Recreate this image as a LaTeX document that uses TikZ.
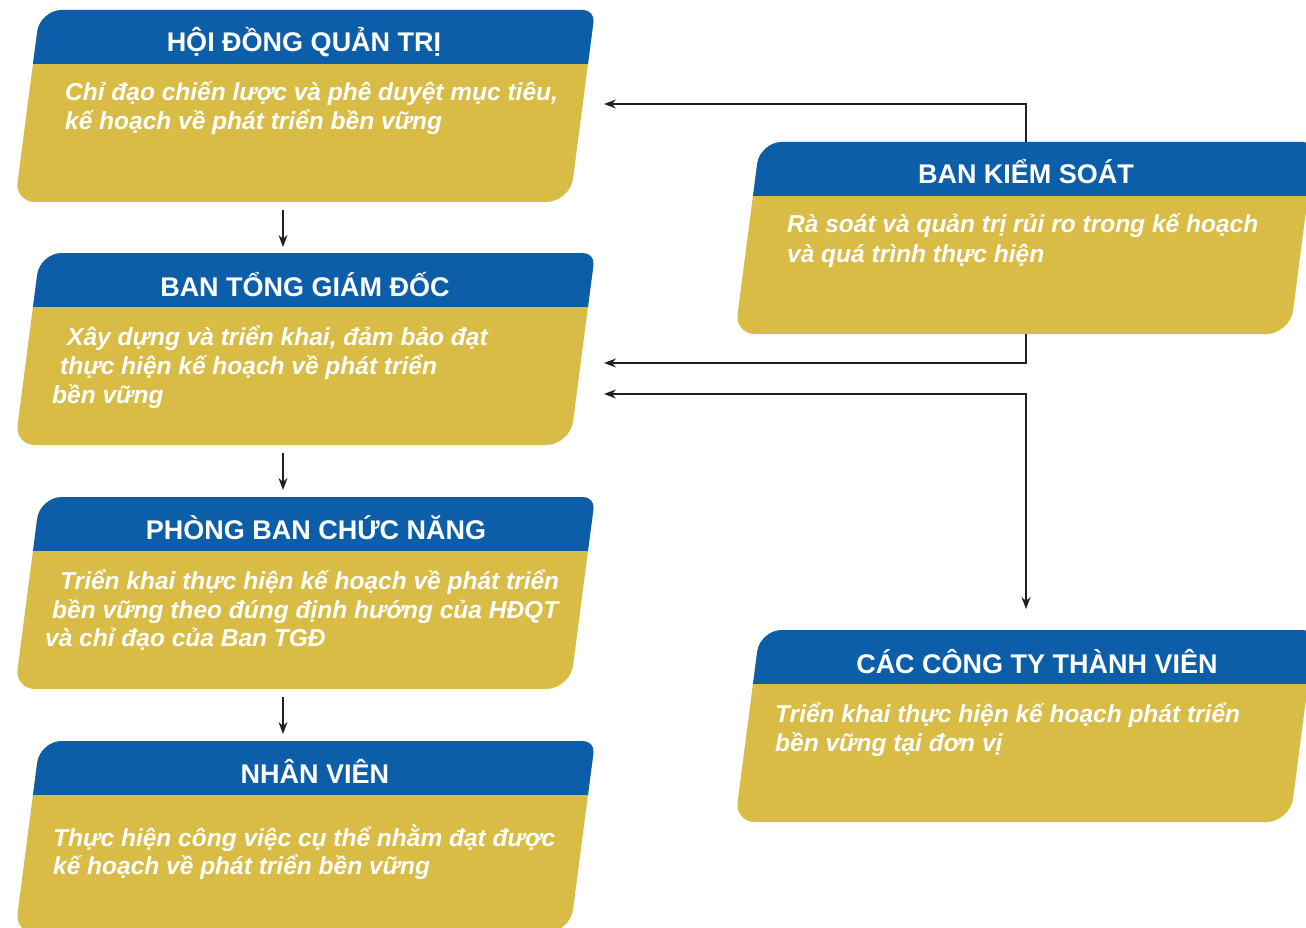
\documentclass[tikz,border=0pt]{standalone}
\usepackage{fontspec}
\setmainfont{Liberation Sans}
\usetikzlibrary{arrows.meta}
\definecolor{hdrblue}{RGB}{12,94,168}
\definecolor{boxgold}{RGB}{216,188,70}
\definecolor{linec}{RGB}{35,31,32}
\tikzset{
  hdr/.style={anchor=base, inner sep=0pt, text=white, font=\bfseries\fontsize{27}{32}\selectfont},
  bodytxt/.style={anchor=base west, inner sep=0pt, text=white, font=\bfseries\itshape\fontsize{24.5}{29}\selectfont},
  conn/.style={draw=linec, line width=1.4pt, -{Stealth[length=12pt,width=9pt]}},
  conn2/.style={draw=linec, line width=1.4pt, {Stealth[length=12pt,width=9pt]}-{Stealth[length=12pt,width=9pt]}},
}
% #1 name, #2 bottom-left x, #3 top y
\newcommand\slantbox[3]{%
  \fill[boxgold] (#2+47,#3) -- (#2+568,#3)
    .. controls (#2+574.62,#3) and (#2+579.31,#3+5.33) .. (#2+578.45,#3+11.90)
    -- (#2+558.1,#3+168.2)
    .. controls (#2+556.39,#3+181.34) and (#2+544.25,#3+192) .. (#2+531,#3+192)
    -- (#2+20,#3+192)
    .. controls (#2+8.96,#3+192) and (#2+1.16,#3+183.12) .. (#2+2.58,#3+172.17)
    -- (#2+22.16,#3+21.82)
    .. controls (#2+23.73,#3+9.77) and (#2+34.86,#3) .. (#2+47,#3)
    -- cycle;
  \begin{scope}
    \clip (#2+47,#3) -- (#2+568,#3)
    .. controls (#2+574.62,#3) and (#2+579.31,#3+5.33) .. (#2+578.45,#3+11.90)
    -- (#2+558.1,#3+168.2)
    .. controls (#2+556.39,#3+181.34) and (#2+544.25,#3+192) .. (#2+531,#3+192)
    -- (#2+20,#3+192)
    .. controls (#2+8.96,#3+192) and (#2+1.16,#3+183.12) .. (#2+2.58,#3+172.17)
    -- (#2+22.16,#3+21.82)
    .. controls (#2+23.73,#3+9.77) and (#2+34.86,#3) .. (#2+47,#3)
    -- cycle;
    \fill[hdrblue] (#2-10,#3-2) rectangle (#2+600,#3+54);
  \end{scope}
  \node[inner sep=0pt, minimum width=580pt, minimum height=192pt, anchor=north west] (#1) at (#2,#3) {};
}
\begin{document}
\begin{tikzpicture}[x=1pt, y=-1pt]
\clip (0,0) rectangle (1306,928);
\fill[white] (0,0) rectangle (1306,928);

\slantbox{hdqt}{15}{10}
\slantbox{tgd}{15}{253}
\slantbox{pbcn}{15}{497}
\slantbox{nv}{15}{741}
\slantbox{bks}{735}{142}
\slantbox{cttv}{735}{630}

\node[hdr] (hdqtT) at (304,52) {HỘI ĐỒNG QUẢN TRỊ};
\node[bodytxt] (hdqtB1) at (65,101) {Chỉ đạo chiến lược và phê duyệt mục tiêu,};
\node[bodytxt] (hdqtB2) at (65,130) {kế hoạch về phát triển bền vững};

\node[hdr] (tgdT) at (305,296) {BAN TỔNG GIÁM ĐỐC};
\node[bodytxt] (tgdB1) at (67,345) {Xây dựng và triển khai, đảm bảo đạt};
\node[bodytxt] (tgdB2) at (60,374) {thực hiện kế hoạch về phát triển};
\node[bodytxt] (tgdB3) at (52,403) {bền vững};

\node[hdr] (pbcnT) at (316,539) {PHÒNG BAN CHỨC NĂNG};
\node[bodytxt] (pbcnB1) at (60,589) {Triển khai thực hiện kế hoạch về phát triển};
\node[bodytxt] (pbcnB2) at (52,618) {bền vững theo đúng định hướng của HĐQT};
\node[bodytxt] (pbcnB3) at (45,646) {và chỉ đạo của Ban TGĐ};

\node[hdr] (nvT) at (315,783) {NHÂN VIÊN};
\node[bodytxt] (nvB1) at (53,846) {Thực hiện công việc cụ thể nhằm đạt được};
\node[bodytxt] (nvB2) at (53,874) {kế hoạch về phát triển bền vững};

\node[hdr] (bksT) at (1026,184) {BAN KIỂM SOÁT};
\node[bodytxt] (bksB1) at (787,233) {Rà soát và quản trị rủi ro trong kế hoạch};
\node[bodytxt] (bksB2) at (787,262) {và quá trình thực hiện};

\node[hdr] (cttvT) at (1037,673) {CÁC CÔNG TY THÀNH VIÊN};
\node[bodytxt] (cttvB1) at (775,722) {Triển khai thực hiện kế hoạch phát triển};
\node[bodytxt] (cttvB2) at (775,751) {bền vững tại đơn vị};

% connectors
\coordinate (bksTop) at (1026,142);
\coordinate (bksBot) at (1026,334);
\coordinate (inHdqt) at (604,104);
\coordinate (inTgd1) at (604,363);
\coordinate (inTgd2) at (604,394);
\coordinate (inCttv) at (1026,609);
\draw[conn] (bksTop) |- (inHdqt);
\draw[conn] (bksBot) |- (inTgd1);
\draw[conn2] (inTgd2) -| (inCttv);

\coordinate (v1s) at (283,210); \coordinate (v1e) at (283,247);
\coordinate (v2s) at (283,453); \coordinate (v2e) at (283,490);
\coordinate (v3s) at (283,697); \coordinate (v3e) at (283,734);
\draw[conn] (v1s) -- (v1e);
\draw[conn] (v2s) -- (v2e);
\draw[conn] (v3s) -- (v3e);
\end{tikzpicture}
\end{document}
